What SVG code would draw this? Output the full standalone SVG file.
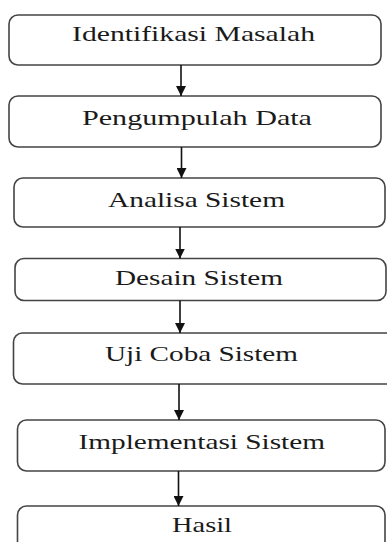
<svg xmlns="http://www.w3.org/2000/svg" width="387" height="542" viewBox="0 0 387 542">
<defs>
<style>
.box{fill:#fff;stroke:#444;stroke-width:1.6}
.lbl{font-family:'Liberation Serif',serif;font-size:21px;fill:#1a1a1a}
.conn{stroke:#111;stroke-width:1.6;fill:none}
</style>
<marker id="ah" markerWidth="10" markerHeight="10" refX="10" refY="5" orient="auto" markerUnits="userSpaceOnUse" viewBox="0 0 10 10">
<path d="M0,0 L10,5 L0,10 Z" fill="#111"/>
</marker>
</defs>
<rect width="387" height="542" fill="#fff"/>
<g id="n1"><rect class="box" x="9" y="15" width="372" height="50" rx="9"/><text class="lbl" x="72" y="41" textLength="243" lengthAdjust="spacingAndGlyphs">Identifikasi Masalah</text></g>
<g id="n2"><rect class="box" x="9" y="96" width="372" height="51" rx="9"/><text class="lbl" x="82" y="125" textLength="230" lengthAdjust="spacingAndGlyphs">Pengumpulah Data</text></g>
<g id="n3"><rect class="box" x="14" y="178" width="371" height="49" rx="9"/><text class="lbl" x="108" y="206.5" textLength="177" lengthAdjust="spacingAndGlyphs">Analisa Sistem</text></g>
<g id="n4"><rect class="box" x="15" y="258.5" width="371" height="42" rx="9"/><text class="lbl" x="115" y="285" textLength="168" lengthAdjust="spacingAndGlyphs">Desain Sistem</text></g>
<g id="n5"><rect class="box" x="13.5" y="333" width="385" height="51" rx="9"/><text class="lbl" x="105" y="361" textLength="193" lengthAdjust="spacingAndGlyphs">Uji Coba Sistem</text></g>
<g id="n6"><rect class="box" x="17.5" y="420" width="367.5" height="51" rx="9"/><text class="lbl" x="78.5" y="448.5" textLength="246.5" lengthAdjust="spacingAndGlyphs">Implementasi Sistem</text></g>
<g id="n7"><rect class="box" x="17.5" y="506" width="367.5" height="60" rx="9"/><text class="lbl" x="172" y="531.5" textLength="60" lengthAdjust="spacingAndGlyphs">Hasil</text></g>
<g id="connectors">
<line class="conn" x1="181" y1="65" x2="181" y2="96" marker-end="url(#ah)"/>
<line class="conn" x1="181.5" y1="147" x2="181.5" y2="178" marker-end="url(#ah)"/>
<line class="conn" x1="180" y1="227" x2="180" y2="258.5" marker-end="url(#ah)"/>
<line class="conn" x1="180" y1="300.5" x2="180" y2="333" marker-end="url(#ah)"/>
<line class="conn" x1="179" y1="384" x2="179" y2="420" marker-end="url(#ah)"/>
<line class="conn" x1="178.5" y1="471" x2="178.5" y2="506" marker-end="url(#ah)"/>
</g>
</svg>
